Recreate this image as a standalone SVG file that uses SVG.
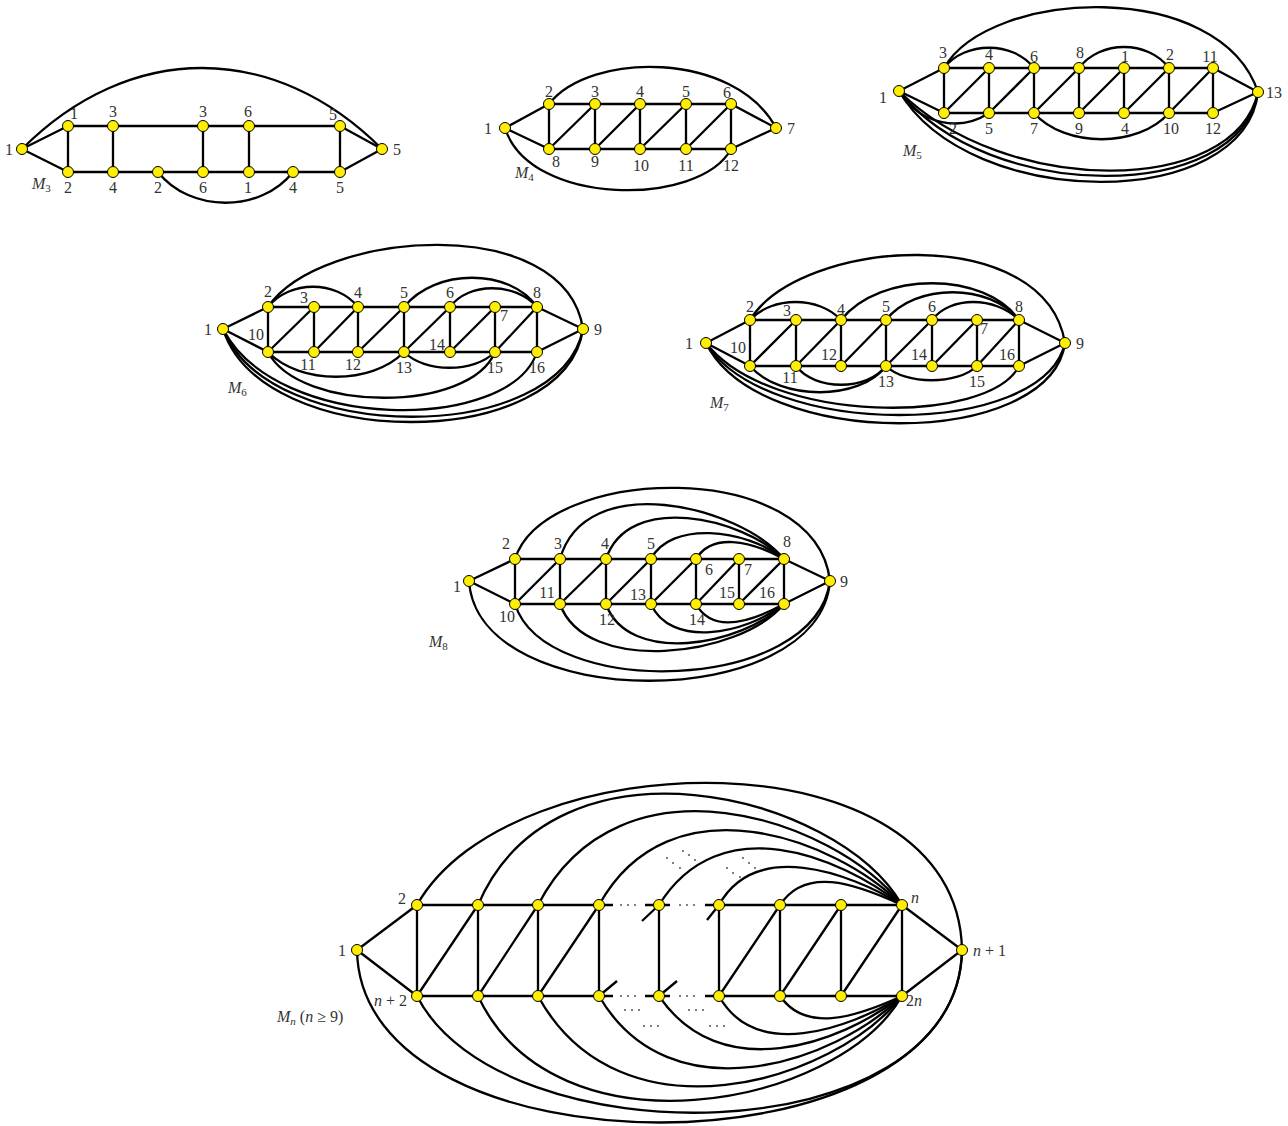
<svg xmlns="http://www.w3.org/2000/svg" width="1288" height="1126" viewBox="0 0 1288 1126">
<style>
.e{fill:none;stroke:#000;stroke-width:2.3}
.v{fill:#ffee00;stroke:#000;stroke-width:1}
.t{font-family:"Liberation Serif","DejaVu Serif",serif;font-size:16px;fill:#333;text-anchor:middle}
.c{font-family:"Liberation Serif","DejaVu Serif",serif;font-size:16px;fill:#333}
.i{font-style:italic}
.d{fill:#444}
</style>
<rect width="1288" height="1126" fill="#fff"/>
<g id="connectors" class="e">
<!-- M3 -->
<path d="M22 149L68 126M22 149L68 172M382 149L340 126M382 149L340 172M68 126H340M68 172H340M68 126V172M113 126V172M203 126V172M249 126V172M340 126V172"/>
<path d="M22 149C130 41 274 41 382 149"/>
<path d="M158 172C190 213 261 213 293 172"/>
<!-- M4 -->
<path d="M505 128L549 104M505 128L549 149M776 128L731 104M776 128L731 149M549 104H731M549 149H731M549 104V149M595 104V149M640 104V149M686 104V149M731 104V149M549 149L595 104M595 149L640 104M640 149L686 104M686 149L731 104"/>
<path d="M549 104C590 51 735 51 776 128"/>
<path d="M505 128C530 207 700 207 731 149"/>
<!-- M5 -->
<path d="M899 91L944 68M899 91L944 113M1258 92L1213 68M1258 92L1213 113M944 68H1213M944 113H1213M944 68V113M989 68V113M1034 68V113M1079 68V113M1124 68V113M1169 68V113M1213 68V113M944 113L989 68M989 113L1034 68M1034 113L1079 68M1079 113L1124 68M1124 113L1169 68M1169 113L1213 68"/>
<path d="M944 68C990 -12 1220 -22 1258 92"/>
<path d="M944 68C965 41 1013 41 1034 68"/>
<path d="M1079 68C1100 40 1148 40 1169 68"/>
<path d="M899 91C920 125 960 132 989 113"/>
<path d="M1034 113C1065 148 1138 148 1169 113"/>
<path d="M899 91C1005 197 1235 197 1258 92"/>
<path d="M899 91C988 204 1240 204 1258 92"/>
<path d="M899 91C970 212 1245 212 1258 92"/>
<!-- M6 -->
<path d="M223 329L268 307M223 329L268 352M583 329L537 307M583 329L537 352M268 307H537M268 352H537M268 307V352M314 307V352M358 307V352M404 307V352M450 307V352M495 307V352M537 307V352M268 352L314 307M314 352L358 307M358 352L404 307M404 352L450 307M450 352L495 307M495 352L537 307"/>
<path d="M268 307C320 230 565 211 583 329"/>
<path d="M268 307C290 280 336 280 358 307"/>
<path d="M404 307C435 268 510 268 537 307"/>
<path d="M450 307C468 282 515 282 537 307"/>
<path d="M268 352C300 385 372 385 404 352"/>
<path d="M404 352C425 373 474 373 495 352"/>
<path d="M268 352C300 413 470 413 495 352"/>
<path d="M223 329C277 433 510 433 537 352"/>
<path d="M223 329C270 446 560 446 583 329"/>
<path d="M223 329C262 453 565 453 583 329"/>
<!-- M7 -->
<path d="M706 343L750 320M706 343L750 366M1065 343L1019 320M1065 343L1019 366M750 320H1019M750 366H1019M750 320V366M796 320V366M841 320V366M886 320V366M932 320V366M977 320V366M1019 320V366M750 366L796 320M796 366L841 320M841 366L886 320M886 366L932 320M932 366L977 320M977 366L1019 320"/>
<path d="M750 320C800 238 1045 221 1065 343"/>
<path d="M750 320C772 296 819 296 841 320"/>
<path d="M841 320C880 271 985 271 1019 320"/>
<path d="M886 320C915 283 990 283 1019 320"/>
<path d="M932 320C950 296 995 296 1019 320"/>
<path d="M796 366C815 391 867 391 886 366"/>
<path d="M750 366C780 401 860 401 886 366"/>
<path d="M886 366C905 385 958 385 977 366"/>
<path d="M706 343C770 425 990 425 1019 366"/>
<path d="M706 343C765 439 1043 439 1065 343"/>
<path d="M706 343C758 450 1050 450 1065 343"/>
<!-- M8 -->
<path d="M469 581L515 559M469 581L515 604M830 581L784 559M830 581L784 604M515 559H784M515 604H784M515 559V604M560 559V604M606 559V604M651 559V604M696 559V604M739 559V604M784 559V604M515 604L560 559M560 604L606 559M606 604L651 559M651 604L696 559M696 604L739 559M739 604L784 559"/>
<path d="M515 559C545 465 815 456 830 581"/>
<path d="M560 559C585 469 739 505 784 559"/>
<path d="M606 559C628 492 742 517 784 559"/>
<path d="M651 559C670 521 745 528 784 559"/>
<path d="M696 559C712 533 749 540 784 559"/>
<path d="M560 604C585 675 739 658 784 604"/>
<path d="M606 604C628 666 742 646 784 604"/>
<path d="M651 604C670 648 745 635 784 604"/>
<path d="M696 604C712 633 749 623 784 604"/>
<path d="M515 604C545 700 815 694 830 581"/>
<path d="M469 581C478 714 820 714 830 581"/>
<!-- Mn -->
<path d="M357 950L417 905M357 950L417 996M962 950L902 905M962 950L902 996M417 905H613M645 905H670M705 905H902M417 996H613M645 996H670M705 996H902M417 905V996M478 905V996M538 905V996M599 905V996M659 905V996M719 905V996M780 905V996M841 905V996M902 905V996M417 996L478 905M478 996L538 905M538 996L599 905M719 996L780 905M780 996L841 905M841 996L902 905M659 905L642 921M719 905L707 920M599 996L617 981M659 996L677 981"/>
<path d="M417 905C510 740 958 730 962 950"/>
<path d="M478 905C555 725 837 792 902 905"/>
<path d="M538 905C620 747 834 818 902 905"/>
<path d="M599 905C670 777 835 838 902 905"/>
<path d="M659 905C720 807 839 856 902 905"/>
<path d="M719 905C755 840 847 871 902 905"/>
<path d="M780 905C805 867 852 882 902 905"/>
<path d="M780 996C805 1032 852 1019 902 996"/>
<path d="M719 996C755 1061 847 1030 902 996"/>
<path d="M659 996C720 1086 839 1045 902 996"/>
<path d="M599 996C670 1118 835 1063 902 996"/>
<path d="M538 996C620 1146 834 1083 902 996"/>
<path d="M478 996C555 1160 837 1109 902 996"/>
<path d="M417 996C500 1160 958 1157 962 950"/>
<path d="M357 950C360 1180 960 1180 962 950"/>
</g>
<g id="dots" class="d">
<circle cx="621" cy="905" r="0.9"/><circle cx="628" cy="905" r="0.9"/><circle cx="635" cy="905" r="0.9"/>
<circle cx="680" cy="905" r="0.9"/><circle cx="687" cy="905" r="0.9"/><circle cx="694" cy="905" r="0.9"/>
<circle cx="621" cy="996" r="0.9"/><circle cx="628" cy="996" r="0.9"/><circle cx="635" cy="996" r="0.9"/>
<circle cx="680" cy="996" r="0.9"/><circle cx="687" cy="996" r="0.9"/><circle cx="694" cy="996" r="0.9"/>
<circle cx="625" cy="1010" r="0.9"/><circle cx="632" cy="1010" r="0.9"/><circle cx="639" cy="1010" r="0.9"/>
<circle cx="689" cy="1010" r="0.9"/><circle cx="696" cy="1010" r="0.9"/><circle cx="703" cy="1010" r="0.9"/>
<circle cx="644" cy="1026" r="0.9"/><circle cx="651" cy="1026" r="0.9"/><circle cx="658" cy="1026" r="0.9"/>
<circle cx="710" cy="1026" r="0.9"/><circle cx="717" cy="1026" r="0.9"/><circle cx="724" cy="1026" r="0.9"/>
<circle cx="667" cy="858" r="0.9"/><circle cx="673" cy="863" r="0.9"/><circle cx="680" cy="868" r="0.9"/>
<circle cx="683" cy="851" r="0.9"/><circle cx="689" cy="855" r="0.9"/><circle cx="695" cy="860" r="0.9"/>
<circle cx="727" cy="868" r="0.9"/><circle cx="733" cy="873" r="0.9"/><circle cx="740" cy="877" r="0.9"/>
<circle cx="743" cy="858" r="0.9"/><circle cx="749" cy="863" r="0.9"/><circle cx="755" cy="868" r="0.9"/>
</g>
<g id="M3">
<g id="m3-a"><circle class="v" cx="22" cy="149" r="5.5"/><text class="t" x="9" y="155">1</text></g>
<g id="m3-t1"><circle class="v" cx="68" cy="126" r="5.5"/><text class="t" x="74" y="119">1</text></g>
<g id="m3-t2"><circle class="v" cx="113" cy="126" r="5.5"/><text class="t" x="113" y="117">3</text></g>
<g id="m3-t3"><circle class="v" cx="203" cy="126" r="5.5"/><text class="t" x="203" y="117">3</text></g>
<g id="m3-t4"><circle class="v" cx="249" cy="126" r="5.5"/><text class="t" x="248" y="117">6</text></g>
<g id="m3-t5"><circle class="v" cx="340" cy="126" r="5.5"/><text class="t" x="333" y="120">5</text></g>
<g id="m3-b1"><circle class="v" cx="68" cy="172" r="5.5"/><text class="t" x="68" y="193">2</text></g>
<g id="m3-b2"><circle class="v" cx="113" cy="172" r="5.5"/><text class="t" x="113" y="193">4</text></g>
<g id="m3-b3"><circle class="v" cx="158" cy="172" r="5.5"/><text class="t" x="158" y="193">2</text></g>
<g id="m3-b4"><circle class="v" cx="203" cy="172" r="5.5"/><text class="t" x="203" y="193">6</text></g>
<g id="m3-b5"><circle class="v" cx="249" cy="172" r="5.5"/><text class="t" x="248" y="193">1</text></g>
<g id="m3-b6"><circle class="v" cx="293" cy="172" r="5.5"/><text class="t" x="293" y="193">4</text></g>
<g id="m3-b7"><circle class="v" cx="340" cy="172" r="5.5"/><text class="t" x="340" y="193">5</text></g>
<g id="m3-z"><circle class="v" cx="382" cy="149" r="5.5"/><text class="t" x="397" y="155">5</text></g>
<text class="c" x="32" y="189"><tspan class="i">M</tspan><tspan font-size="11" dy="3">3</tspan></text>
</g>
<g id="M4">
<g id="m4-a"><circle class="v" cx="505" cy="128" r="5.5"/><text class="t" x="488" y="134">1</text></g>
<g id="m4-t1"><circle class="v" cx="549" cy="104" r="5.5"/><text class="t" x="549" y="97">2</text></g>
<g id="m4-t2"><circle class="v" cx="595" cy="104" r="5.5"/><text class="t" x="595" y="97">3</text></g>
<g id="m4-t3"><circle class="v" cx="640" cy="104" r="5.5"/><text class="t" x="640" y="97">4</text></g>
<g id="m4-t4"><circle class="v" cx="686" cy="104" r="5.5"/><text class="t" x="686" y="97">5</text></g>
<g id="m4-t5"><circle class="v" cx="731" cy="104" r="5.5"/><text class="t" x="727" y="98">6</text></g>
<g id="m4-b1"><circle class="v" cx="549" cy="149" r="5.5"/><text class="t" x="556" y="167">8</text></g>
<g id="m4-b2"><circle class="v" cx="595" cy="149" r="5.5"/><text class="t" x="595" y="167">9</text></g>
<g id="m4-b3"><circle class="v" cx="640" cy="149" r="5.5"/><text class="t" x="641" y="171">10</text></g>
<g id="m4-b4"><circle class="v" cx="686" cy="149" r="5.5"/><text class="t" x="686" y="171">11</text></g>
<g id="m4-b5"><circle class="v" cx="731" cy="149" r="5.5"/><text class="t" x="731" y="171">12</text></g>
<g id="m4-z"><circle class="v" cx="776" cy="128" r="5.5"/><text class="t" x="791" y="134">7</text></g>
<text class="c" x="515" y="178"><tspan class="i">M</tspan><tspan font-size="11" dy="3">4</tspan></text>
</g>
<g id="M5">
<g id="m5-a"><circle class="v" cx="899" cy="91" r="5.5"/><text class="t" x="883" y="103">1</text></g>
<g id="m5-t1"><circle class="v" cx="944" cy="68" r="5.5"/><text class="t" x="943" y="58">3</text></g>
<g id="m5-t2"><circle class="v" cx="989" cy="68" r="5.5"/><text class="t" x="989" y="60">4</text></g>
<g id="m5-t3"><circle class="v" cx="1034" cy="68" r="5.5"/><text class="t" x="1034" y="62">6</text></g>
<g id="m5-t4"><circle class="v" cx="1079" cy="68" r="5.5"/><text class="t" x="1080" y="58">8</text></g>
<g id="m5-t5"><circle class="v" cx="1124" cy="68" r="5.5"/><text class="t" x="1125" y="62">1</text></g>
<g id="m5-t6"><circle class="v" cx="1169" cy="68" r="5.5"/><text class="t" x="1170" y="60">2</text></g>
<g id="m5-t7"><circle class="v" cx="1213" cy="68" r="5.5"/><text class="t" x="1210" y="62">11</text></g>
<g id="m5-b1"><circle class="v" cx="944" cy="113" r="5.5"/><text class="t" x="953" y="134">2</text></g>
<g id="m5-b2"><circle class="v" cx="989" cy="113" r="5.5"/><text class="t" x="989" y="134">5</text></g>
<g id="m5-b3"><circle class="v" cx="1034" cy="113" r="5.5"/><text class="t" x="1034" y="134">7</text></g>
<g id="m5-b4"><circle class="v" cx="1079" cy="113" r="5.5"/><text class="t" x="1079" y="134">9</text></g>
<g id="m5-b5"><circle class="v" cx="1124" cy="113" r="5.5"/><text class="t" x="1125" y="134">4</text></g>
<g id="m5-b6"><circle class="v" cx="1169" cy="113" r="5.5"/><text class="t" x="1171" y="134">10</text></g>
<g id="m5-b7"><circle class="v" cx="1213" cy="113" r="5.5"/><text class="t" x="1213" y="134">12</text></g>
<g id="m5-z"><circle class="v" cx="1258" cy="92" r="5.5"/><text class="t" x="1274" y="98">13</text></g>
<text class="c" x="903" y="156"><tspan class="i">M</tspan><tspan font-size="11" dy="3">5</tspan></text>
</g>
<g id="M6">
<g id="m6-a"><circle class="v" cx="223" cy="329" r="5.5"/><text class="t" x="208" y="335">1</text></g>
<g id="m6-t1"><circle class="v" cx="268" cy="307" r="5.5"/><text class="t" x="268" y="297">2</text></g>
<g id="m6-t2"><circle class="v" cx="314" cy="307" r="5.5"/><text class="t" x="304" y="303">3</text></g>
<g id="m6-t3"><circle class="v" cx="358" cy="307" r="5.5"/><text class="t" x="358" y="298">4</text></g>
<g id="m6-t4"><circle class="v" cx="404" cy="307" r="5.5"/><text class="t" x="404" y="298">5</text></g>
<g id="m6-t5"><circle class="v" cx="450" cy="307" r="5.5"/><text class="t" x="450" y="298">6</text></g>
<g id="m6-t6"><circle class="v" cx="495" cy="307" r="5.5"/><text class="t" x="504" y="321">7</text></g>
<g id="m6-t7"><circle class="v" cx="537" cy="307" r="5.5"/><text class="t" x="537" y="298">8</text></g>
<g id="m6-b1"><circle class="v" cx="268" cy="352" r="5.5"/><text class="t" x="256" y="340">10</text></g>
<g id="m6-b2"><circle class="v" cx="314" cy="352" r="5.5"/><text class="t" x="308" y="370">11</text></g>
<g id="m6-b3"><circle class="v" cx="358" cy="352" r="5.5"/><text class="t" x="353" y="370">12</text></g>
<g id="m6-b4"><circle class="v" cx="404" cy="352" r="5.5"/><text class="t" x="404" y="373">13</text></g>
<g id="m6-b5"><circle class="v" cx="450" cy="352" r="5.5"/><text class="t" x="437" y="350">14</text></g>
<g id="m6-b6"><circle class="v" cx="495" cy="352" r="5.5"/><text class="t" x="495" y="373">15</text></g>
<g id="m6-b7"><circle class="v" cx="537" cy="352" r="5.5"/><text class="t" x="537" y="373">16</text></g>
<g id="m6-z"><circle class="v" cx="583" cy="329" r="5.5"/><text class="t" x="598" y="335">9</text></g>
<text class="c" x="228" y="393"><tspan class="i">M</tspan><tspan font-size="11" dy="3">6</tspan></text>
</g>
<g id="M7">
<g id="m7-a"><circle class="v" cx="706" cy="343" r="5.5"/><text class="t" x="689" y="349">1</text></g>
<g id="m7-t1"><circle class="v" cx="750" cy="320" r="5.5"/><text class="t" x="750" y="312">2</text></g>
<g id="m7-t2"><circle class="v" cx="796" cy="320" r="5.5"/><text class="t" x="787" y="316">3</text></g>
<g id="m7-t3"><circle class="v" cx="841" cy="320" r="5.5"/><text class="t" x="841" y="315">4</text></g>
<g id="m7-t4"><circle class="v" cx="886" cy="320" r="5.5"/><text class="t" x="886" y="312">5</text></g>
<g id="m7-t5"><circle class="v" cx="932" cy="320" r="5.5"/><text class="t" x="932" y="312">6</text></g>
<g id="m7-t6"><circle class="v" cx="977" cy="320" r="5.5"/><text class="t" x="984" y="334">7</text></g>
<g id="m7-t7"><circle class="v" cx="1019" cy="320" r="5.5"/><text class="t" x="1019" y="312">8</text></g>
<g id="m7-b1"><circle class="v" cx="750" cy="366" r="5.5"/><text class="t" x="738" y="353">10</text></g>
<g id="m7-b2"><circle class="v" cx="796" cy="366" r="5.5"/><text class="t" x="790" y="383">11</text></g>
<g id="m7-b3"><circle class="v" cx="841" cy="366" r="5.5"/><text class="t" x="829" y="360">12</text></g>
<g id="m7-b4"><circle class="v" cx="886" cy="366" r="5.5"/><text class="t" x="886" y="387">13</text></g>
<g id="m7-b5"><circle class="v" cx="932" cy="366" r="5.5"/><text class="t" x="919" y="360">14</text></g>
<g id="m7-b6"><circle class="v" cx="977" cy="366" r="5.5"/><text class="t" x="977" y="387">15</text></g>
<g id="m7-b7"><circle class="v" cx="1019" cy="366" r="5.5"/><text class="t" x="1007" y="360">16</text></g>
<g id="m7-z"><circle class="v" cx="1065" cy="343" r="5.5"/><text class="t" x="1080" y="349">9</text></g>
<text class="c" x="710" y="408"><tspan class="i">M</tspan><tspan font-size="11" dy="3">7</tspan></text>
</g>
<g id="M8">
<g id="m8-a"><circle class="v" cx="469" cy="581" r="5.5"/><text class="t" x="457" y="592">1</text></g>
<g id="m8-t1"><circle class="v" cx="515" cy="559" r="5.5"/><text class="t" x="506" y="549">2</text></g>
<g id="m8-t2"><circle class="v" cx="560" cy="559" r="5.5"/><text class="t" x="558" y="549">3</text></g>
<g id="m8-t3"><circle class="v" cx="606" cy="559" r="5.5"/><text class="t" x="605" y="549">4</text></g>
<g id="m8-t4"><circle class="v" cx="651" cy="559" r="5.5"/><text class="t" x="651" y="549">5</text></g>
<g id="m8-t5"><circle class="v" cx="696" cy="559" r="5.5"/><text class="t" x="709" y="575">6</text></g>
<g id="m8-t6"><circle class="v" cx="739" cy="559" r="5.5"/><text class="t" x="748" y="575">7</text></g>
<g id="m8-t7"><circle class="v" cx="784" cy="559" r="5.5"/><text class="t" x="787" y="547">8</text></g>
<g id="m8-b1"><circle class="v" cx="515" cy="604" r="5.5"/><text class="t" x="507" y="622">10</text></g>
<g id="m8-b2"><circle class="v" cx="560" cy="604" r="5.5"/><text class="t" x="547" y="598">11</text></g>
<g id="m8-b3"><circle class="v" cx="606" cy="604" r="5.5"/><text class="t" x="607" y="625">12</text></g>
<g id="m8-b4"><circle class="v" cx="651" cy="604" r="5.5"/><text class="t" x="638" y="600">13</text></g>
<g id="m8-b5"><circle class="v" cx="696" cy="604" r="5.5"/><text class="t" x="697" y="625">14</text></g>
<g id="m8-b6"><circle class="v" cx="739" cy="604" r="5.5"/><text class="t" x="727" y="598">15</text></g>
<g id="m8-b7"><circle class="v" cx="784" cy="604" r="5.5"/><text class="t" x="767" y="598">16</text></g>
<g id="m8-z"><circle class="v" cx="830" cy="581" r="5.5"/><text class="t" x="844" y="587">9</text></g>
<text class="c" x="429" y="647"><tspan class="i">M</tspan><tspan font-size="11" dy="3">8</tspan></text>
</g>
<g id="Mn">
<g id="mn-a"><circle class="v" cx="357" cy="950" r="5.5"/><text class="t" x="342" y="956">1</text></g>
<g id="mn-t1"><circle class="v" cx="417" cy="905" r="5.5"/><text class="t" x="402" y="904">2</text></g>
<g id="mn-t2"><circle class="v" cx="478" cy="905" r="5.5"/></g>
<g id="mn-t3"><circle class="v" cx="538" cy="905" r="5.5"/></g>
<g id="mn-t4"><circle class="v" cx="599" cy="905" r="5.5"/></g>
<g id="mn-t5"><circle class="v" cx="659" cy="905" r="5.5"/></g>
<g id="mn-t6"><circle class="v" cx="719" cy="905" r="5.5"/></g>
<g id="mn-t7"><circle class="v" cx="780" cy="905" r="5.5"/></g>
<g id="mn-t8"><circle class="v" cx="841" cy="905" r="5.5"/></g>
<g id="mn-t9"><circle class="v" cx="902" cy="905" r="5.5"/><text class="c i" x="911" y="903">n</text></g>
<g id="mn-b1"><circle class="v" cx="417" cy="996" r="5.5"/><text class="c" x="407" y="1006" text-anchor="end"><tspan class="i">n</tspan> + 2</text></g>
<g id="mn-b2"><circle class="v" cx="478" cy="996" r="5.5"/></g>
<g id="mn-b3"><circle class="v" cx="538" cy="996" r="5.5"/></g>
<g id="mn-b4"><circle class="v" cx="599" cy="996" r="5.5"/></g>
<g id="mn-b5"><circle class="v" cx="659" cy="996" r="5.5"/></g>
<g id="mn-b6"><circle class="v" cx="719" cy="996" r="5.5"/></g>
<g id="mn-b7"><circle class="v" cx="780" cy="996" r="5.5"/></g>
<g id="mn-b8"><circle class="v" cx="841" cy="996" r="5.5"/></g>
<g id="mn-b9"><circle class="v" cx="902" cy="996" r="5.5"/><text class="c" x="906" y="1006">2<tspan class="i">n</tspan></text></g>
<g id="mn-z"><circle class="v" cx="962" cy="950" r="5.5"/><text class="c" x="973" y="956"><tspan class="i">n</tspan> + 1</text></g>
<text class="c" x="277" y="1022"><tspan class="i">M</tspan><tspan class="i" font-size="11" dy="3">n</tspan><tspan dy="-3"> (</tspan><tspan class="i">n</tspan> ≥ 9)</text>
</g>
</svg>
